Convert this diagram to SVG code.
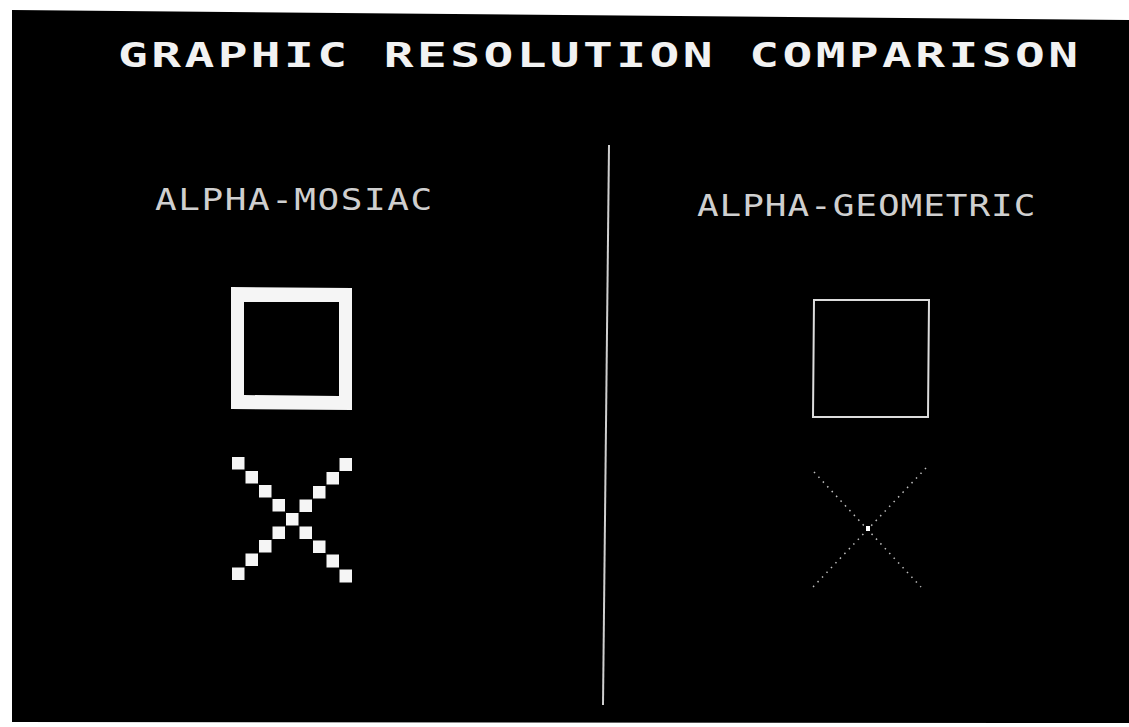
<svg xmlns="http://www.w3.org/2000/svg" width="1129" height="727" viewBox="0 0 1129 727">
<style>
.title{font-family:"DejaVu Sans Mono","Liberation Mono",monospace;font-weight:bold;font-size:33px;fill:#f2f2f2}
.sub{font-family:"DejaVu Sans Mono","Liberation Mono",monospace;font-weight:normal;font-size:30px;fill:#cfcfcf}
.px{fill:#f5f5f5}
.thin{fill:none;stroke:#dcdcdc;stroke-width:2}
.dots{fill:none;stroke:#bdbdbd;stroke-width:1.5;stroke-dasharray:1.5 5}
</style>
<rect x="0" y="0" width="1129" height="727" fill="#ffffff"/>
<polygon points="12,10 1129,20 1129,723 12,722" fill="#000000"/>
<g id="title">
<text class="title" transform="translate(118,67) scale(1.5,1)" x="0" y="0" textLength="640" lengthAdjust="spacing">GRAPHIC RESOLUTION COMPARISON</text>
</g>
<g id="divider">
<line x1="609" y1="145" x2="603" y2="705" stroke="#cfcfcf" stroke-width="2"/>
</g>
<g id="alpha-mosiac">
<text class="sub" transform="translate(155,210) scale(1.2,1)" x="0" y="0" textLength="231" lengthAdjust="spacing">ALPHA-MOSIAC</text>
<path class="px" fill-rule="evenodd" d="M231,287 L352,288 L352,410 L231,409 Z M244,302 L339,302 L339,396 L244,395 Z"/>
<g id="mosaic-x">
<rect class="px" x="232" y="457" width="12.5" height="12.5"/>
<rect class="px" x="245.5" y="471" width="12.5" height="12.5"/>
<rect class="px" x="259" y="485" width="12.5" height="12.5"/>
<rect class="px" x="272.5" y="499" width="12.5" height="12.5"/>
<rect class="px" x="286" y="513" width="12.5" height="12.5"/>
<rect class="px" x="272.5" y="526.5" width="12.5" height="12.5"/>
<rect class="px" x="259" y="540" width="12.5" height="12.5"/>
<rect class="px" x="245.5" y="553.5" width="12.5" height="12.5"/>
<rect class="px" x="232" y="567.5" width="12.5" height="12.5"/>
<rect class="px" x="339.5" y="458" width="12.5" height="13"/>
<rect class="px" x="326.5" y="472" width="12.5" height="12.5"/>
<rect class="px" x="313" y="486" width="12.5" height="12.5"/>
<rect class="px" x="299.5" y="499.5" width="12.5" height="12.5"/>
<rect class="px" x="299.5" y="526.5" width="12.5" height="12.5"/>
<rect class="px" x="313" y="540.5" width="12.5" height="12.5"/>
<rect class="px" x="326.5" y="554.5" width="12.5" height="13"/>
<rect class="px" x="339.5" y="569.5" width="12.5" height="13"/>
</g>
</g>
<g id="alpha-geometric">
<text class="sub" transform="translate(697,216) scale(1.2,1)" x="0" y="0" textLength="282" lengthAdjust="spacing">ALPHA-GEOMETRIC</text>
<path class="thin" d="M814,300 L929,300 L928,417 L813,417 Z"/>
<g id="geometric-x">
<line class="dots" x1="814" y1="472" x2="921" y2="587"/>
<line class="dots" x1="926" y1="468" x2="813" y2="587"/>
<rect x="866" y="526" width="4" height="5" fill="#ffffff"/>
</g>
</g>
</svg>
